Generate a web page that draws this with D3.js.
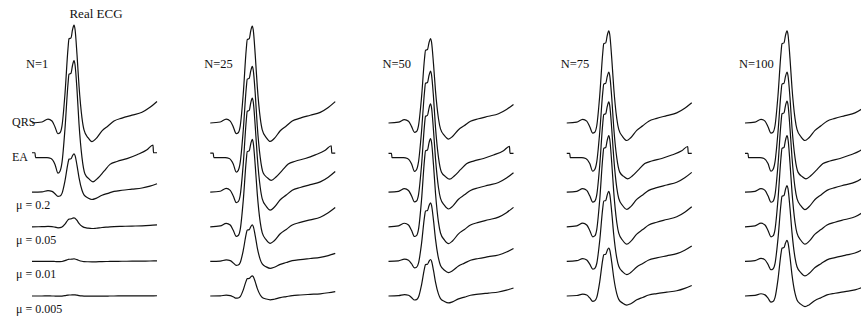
<!DOCTYPE html>
<html>
<head>
<meta charset="utf-8">
<script src="https://cdn.jsdelivr.net/npm/d3@7"></script>
<style>
  body { margin: 0; background: #fff; }
  svg { display: block; }
  .lbl { font-family: "Liberation Serif", "Times New Roman", serif; fill: #111; }
</style>
</head>
<body>
<figure id="ecg" style="margin:0"></figure>
<script>
// panel and row labels
const panelLabels = ['N=1', 'N=25', 'N=50', 'N=75', 'N=100'];
const rowLabels = ['QRS', 'EA', 'μ = 0.2', 'μ = 0.05', 'μ = 0.01', 'μ = 0.005'];

// one beat of the real QRS lead (ms, normalised amplitude)
const qrsMs = [0, 40, 64, 80, 92, 104, 112, 120, 132, 144, 148, 156, 162, 168, 172, 180, 188, 200, 208, 224, 240, 256, 280, 304, 328, 360, 400, 440, 472, 500];
const qrsWave = [0, 0.01, 0.04, 0.02, -0.04, -0.11, -0.10, -0.03, 0.30, 0.76, 0.86, 0.87, 0.95, 1.00, 0.96, 0.70, 0.38, 0.05, -0.07, -0.15, -0.19, -0.16, -0.08, -0.03, 0.02, 0.05, 0.08, 0.11, 0.16, 0.22];

// the EA lead, with the step at each end
const eaMs = [0, 12, 14, 60, 76, 92, 104, 112, 120, 132, 144, 148, 156, 162, 168, 172, 180, 188, 200, 212, 228, 244, 264, 288, 312, 340, 380, 420, 460, 484, 486, 500];
const eaWave = [0.05, 0.05, 0, 0, -0.01, -0.07, -0.16, -0.14, -0.05, 0.30, 0.76, 0.86, 0.87, 0.95, 1.00, 0.96, 0.70, 0.35, 0, -0.17, -0.22, -0.25, -0.21, -0.14, -0.07, -0.04, -0.01, 0.03, 0.08, 0.13, 0.05, 0.05];

// which lead each row shows
const rowWave = ['qrs', 'ea', 'qrs', 'qrs', 'qrs', 'qrs'];

// peak gain of each row, per panel
const gainN1 = [1.02, 1.01, 0.40, 0.094, 0.026, 0.012];
const gainN25 = [1.01, 0.95, 0.98, 0.91, 0.38, 0.21];
const gainN50 = [0.88, 0.90, 0.92, 0.92, 0.61, 0.38];
const gainN75 = [0.96, 0.89, 0.94, 0.95, 0.73, 0.50];
const gainN100 = [0.96, 0.89, 0.95, 0.95, 0.79, 0.58];
const gains = [gainN1, gainN25, gainN50, gainN75, gainN100];

const width = 861, height = 320;

const svg = d3.select('figure#ecg')
  .append('svg')
  .attr('width', width)
  .attr('height', height);

// layout scales
const panelX = d3.scaleLinear().domain([0, 4]).range([32, 745]);
const rowY = d3.scalePoint().domain(d3.range(6)).range([123, 296]);
const t = d3.scaleLinear().domain([0, 500]).range([0, 125]);
const amp = d3.scaleLinear().domain([0, 1]).range([0, -96]);

const waves = {
  qrs: qrsMs.map((ms, i) => ({ ms: ms, v: qrsWave[i] })),
  ea: eaMs.map((ms, i) => ({ ms: ms, v: eaWave[i] }))
};

const traces = [];
gains.forEach((g, p) => {
  g.forEach((gain, r) => {
    traces.push({ panel: p, row: r, gain: gain, pts: waves[rowWave[r]] });
  });
});

svg.selectAll('path.trace')
  .data(traces)
  .enter()
  .append('path')
  .attr('class', 'trace')
  .attr('fill', 'none')
  .attr('stroke', '#111')
  .attr('stroke-width', 1.2)
  .attr('stroke-linejoin', 'round')
  .attr('d', d => d3.line()
    .x(q => panelX(d.panel) + t(q.ms))
    .y(q => rowY(d.row) + amp(q.v * d.gain))
    .curve(d3.curveMonotoneX)(d.pts));

// title
svg.append('text')
  .attr('class', 'lbl')
  .attr('x', 96)
  .attr('y', 18)
  .attr('text-anchor', 'middle')
  .style('font-size', '13px')
  .text('Real ECG');

// N labels
svg.selectAll('text.nlab')
  .data(panelLabels)
  .enter()
  .append('text')
  .attr('class', 'lbl nlab')
  .attr('x', (d, i) => panelX(i) - 6)
  .attr('y', 68)
  .style('font-size', '12.5px')
  .text(d => d);

// row labels of the first panel
svg.selectAll('text.rlab')
  .data(rowLabels)
  .enter()
  .append('text')
  .attr('class', 'lbl rlab')
  .attr('x', (d, i) => i < 2 ? 12 : 16)
  .attr('y', (d, i) => rowY(i) + (i < 2 ? 3 : 17))
  .style('font-size', '12px')
  .text(d => d);
</script>
</body>
</html>
